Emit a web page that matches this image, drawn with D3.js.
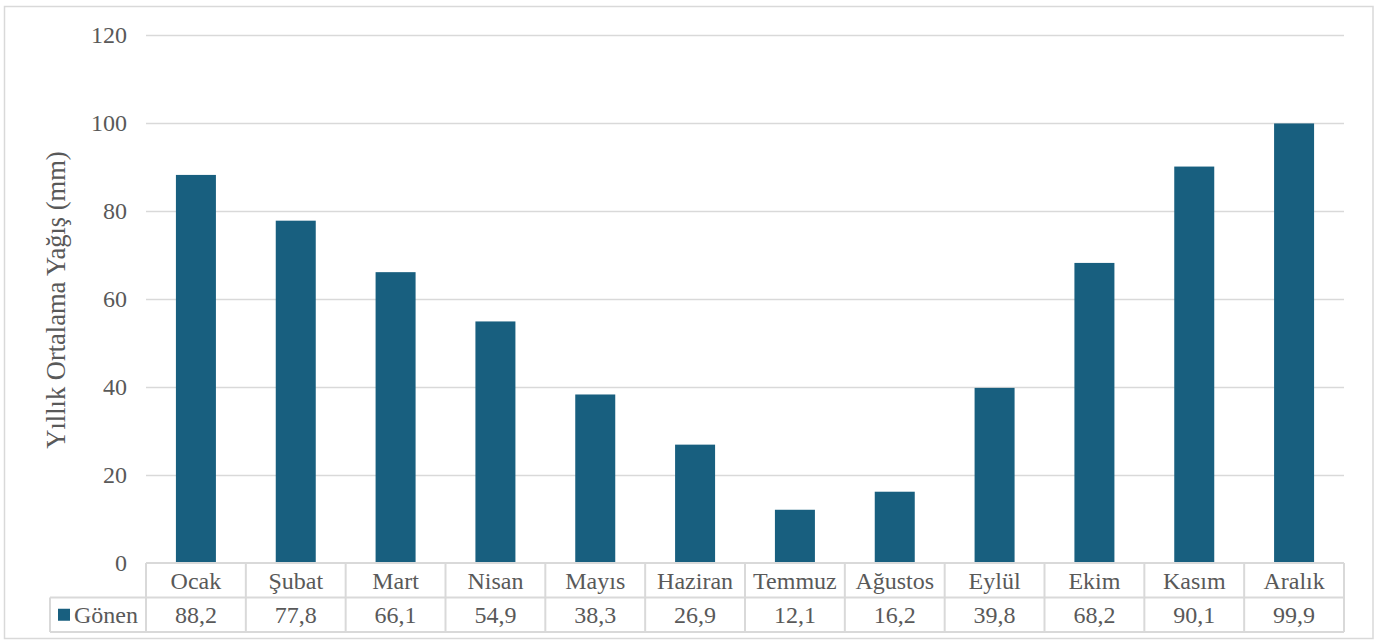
<!DOCTYPE html>
<html>
<head>
<meta charset="utf-8">
<script src="https://cdn.jsdelivr.net/npm/d3@7"></script>
<style>
  html, body { margin: 0; padding: 0; background: #fff; }
  svg { display: block; }
  svg text { font-family: "Liberation Serif", "DejaVu Serif", serif !important; fill: #595959; }
</style>
</head>
<body>
<svg id="chart" width="1382" height="642"></svg>
<script>
// Monthly mean precipitation, Gönen
const months = ["Ocak", "Şubat", "Mart", "Nisan", "Mayıs", "Haziran", "Temmuz", "Ağustos", "Eylül", "Ekim", "Kasım", "Aralık"];
const seriesName = "Gönen";
const values = [88.2, 77.8, 66.1, 54.9, 38.3, 26.9, 12.1, 16.2, 39.8, 68.2, 90.1, 99.9];
const yTicks = [0, 20, 40, 60, 80, 100, 120];
const yTitle = "Yıllık Ortalama Yağış (mm)";

const svg = d3.select("#chart");
const barColor = "#185f7f";
const gridColor = "#d9d9d9";
const textColor = "#595959";
const serif = "Liberation Serif";
const fs = 24;
const fmt = v => d3.format(".1f")(v).replace(".", ",");

const plot = { left: 146, right: 1344, top: 35, bottom: 563 };
const rowH = 34.5;
const legendLeft = 50;

// outer frame
svg.append("rect")
  .attr("x", 4.5).attr("y", 6.5).attr("width", 1368.5).attr("height", 632)
  .attr("fill", "none").attr("stroke", gridColor).attr("stroke-width", 1.5);

const x = d3.scaleBand().domain(months).range([plot.left, plot.right]).paddingInner(0).paddingOuter(0);
const y = d3.scaleLinear().domain([0, 120]).range([plot.bottom, plot.top]);

// horizontal gridlines
svg.append("g").selectAll("line")
  .data(yTicks.filter(t => t > 0))
  .join("line")
  .attr("x1", plot.left).attr("x2", plot.right)
  .attr("y1", d => y(d) + 0.5).attr("y2", d => y(d) + 0.5)
  .attr("stroke", gridColor).attr("stroke-width", 1.5);

// y axis labels
const yAxis = d3.axisLeft(y).tickValues(yTicks).tickSize(0).tickPadding(0);
const gy = svg.append("g")
  .attr("transform", `translate(${plot.left - 19},0)`)
  .call(yAxis)
  .attr("font-family", serif)
  .attr("font-size", fs);
gy.select(".domain").remove();
gy.selectAll("text")
  .attr("fill", textColor)
  .attr("dy", "0.33em");

// y axis title
svg.append("text")
  .attr("transform", `translate(65,300) rotate(-90)`)
  .attr("text-anchor", "middle")
  .attr("font-family", serif)
  .attr("font-size", 26.5)
  .attr("fill", textColor)
  .text(yTitle);

// bars
const barW = 40;
svg.append("g").selectAll("rect")
  .data(values)
  .join("rect")
  .attr("x", (d, i) => x(months[i]) + x.bandwidth() / 2 - barW / 2)
  .attr("width", barW)
  .attr("y", d => y(d))
  .attr("height", d => y(0) - y(d))
  .attr("fill", barColor);

// data table below the axis
const tbl = svg.append("g").attr("font-family", serif).attr("font-size", fs);
const r1 = plot.bottom, r2 = plot.bottom + rowH, r3 = plot.bottom + 2 * rowH;
const lineStyle = sel => sel.attr("stroke", gridColor).attr("stroke-width", 2);

tbl.append("line").attr("x1", plot.left).attr("x2", plot.right).attr("y1", r1).attr("y2", r1).call(lineStyle);
tbl.append("line").attr("x1", legendLeft).attr("x2", plot.right).attr("y1", r2).attr("y2", r2).call(lineStyle);
tbl.append("line").attr("x1", legendLeft).attr("x2", plot.right).attr("y1", r3).attr("y2", r3).call(lineStyle);
tbl.append("line").attr("x1", legendLeft).attr("x2", legendLeft).attr("y1", r2).attr("y2", r3).call(lineStyle);

const edges = months.map(m => x(m)).concat([plot.right]);
tbl.selectAll("line.v")
  .data(edges)
  .join("line")
  .attr("class", "v")
  .attr("x1", d => d).attr("x2", d => d)
  .attr("y1", r1).attr("y2", r3)
  .call(lineStyle);

tbl.selectAll("text.cat")
  .data(months)
  .join("text")
  .attr("class", "cat")
  .attr("x", d => x(d) + x.bandwidth() / 2)
  .attr("y", (r1 + r2) / 2)
  .attr("dy", "0.35em")
  .attr("text-anchor", "middle")
  .attr("fill", textColor)
  .text(d => d);

tbl.selectAll("text.val")
  .data(values)
  .join("text")
  .attr("class", "val")
  .attr("x", (d, i) => x(months[i]) + x.bandwidth() / 2)
  .attr("y", (r2 + r3) / 2)
  .attr("dy", "0.35em")
  .attr("text-anchor", "middle")
  .attr("fill", textColor)
  .text(d => fmt(d));

// legend key in the table's first column
tbl.append("rect")
  .attr("x", 58).attr("y", (r2 + r3) / 2 - 6)
  .attr("width", 12).attr("height", 12)
  .attr("fill", barColor);
tbl.append("text")
  .attr("x", 74)
  .attr("y", (r2 + r3) / 2)
  .attr("dy", "0.35em")
  .attr("fill", textColor)
  .text(seriesName);
</script>
</body>
</html>
